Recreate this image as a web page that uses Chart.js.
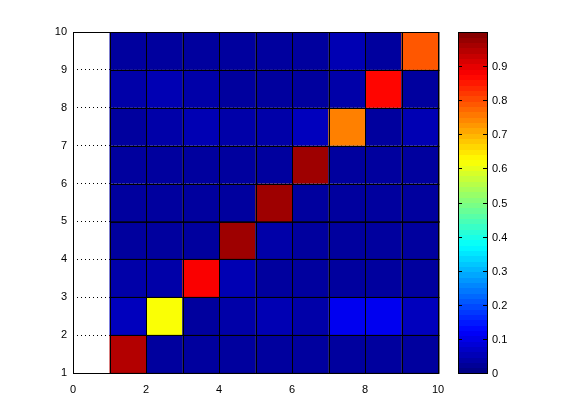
<!DOCTYPE html>
<html>
<head>
<script src="https://cdn.jsdelivr.net/npm/chart.js@4/dist/chart.umd.min.js"></script>
<style>body{margin:0;background:#fff}#wrap{width:561px;height:420px}</style>
</head>
<body>
<div id="wrap"><canvas id="canvas"></canvas></div>
<script>
// cell values, rows from y=1 (bottom) to y=9, columns x=1..9
const row1 = [0.95, 0.03, 0.03, 0.03, 0.03, 0.03, 0.03, 0.03, 0.03];
const row2 = [0.06, 0.62, 0.03, 0.04, 0.05, 0.04, 0.11, 0.11, 0.06];
const row3 = [0.04, 0.04, 0.88, 0.05, 0.03, 0.03, 0.03, 0.03, 0.03];
const row4 = [0.03, 0.03, 0.03, 0.97, 0.04, 0.03, 0.03, 0.03, 0.03];
const row5 = [0.03, 0.03, 0.03, 0.03, 0.97, 0.03, 0.03, 0.03, 0.03];
const row6 = [0.03, 0.03, 0.03, 0.03, 0.03, 0.97, 0.03, 0.03, 0.03];
const row7 = [0.03, 0.04, 0.05, 0.04, 0.04, 0.06, 0.75, 0.03, 0.05];
const row8 = [0.04, 0.05, 0.04, 0.03, 0.03, 0.03, 0.04, 0.87, 0.03];
const row9 = [0.03, 0.03, 0.03, 0.03, 0.03, 0.03, 0.05, 0.03, 0.79];
const rows = [row1, row2, row3, row4, row5, row6, row7, row8, row9];
const xTicks = [0, 2, 4, 6, 8, 10];
const yTicks = [1, 2, 3, 4, 5, 6, 7, 8, 9, 10];
const cbTicks = [0, 0.1, 0.2, 0.3, 0.4, 0.5, 0.6, 0.7, 0.8, 0.9];

// jet colormap
function jet(v) {
    const c = t => Math.max(0, Math.min(1, t));
    const r = c(1.5 - Math.abs(4 * v - 3));
    const g = c(1.5 - Math.abs(4 * v - 2));
    const b = c(1.5 - Math.abs(4 * v - 1));
    return `rgb(${Math.round(r * 255)},${Math.round(g * 255)},${Math.round(b * 255)})`;
}

const cells = {
    id: "cells",
    beforeDatasetsDraw(chart) {
        const ctx = chart.ctx, xs = chart.scales.x, ys = chart.scales.y;
        ctx.save();
        ctx.strokeStyle = "#000";
        ctx.lineWidth = 1;
        for (let j = 0; j < rows.length; j++) {
            for (let i = 0; i < rows[j].length; i++) {
                const x0 = xs.getPixelForValue(i + 1), x1 = xs.getPixelForValue(i + 2);
                const y0 = ys.getPixelForValue(j + 2), y1 = ys.getPixelForValue(j + 1);
                ctx.fillStyle = jet(rows[j][i]);
                ctx.fillRect(x0, y0, x1 - x0, y1 - y0);
                ctx.strokeRect(Math.round(x0) + 0.5, Math.round(y0) + 0.5, x1 - x0, y1 - y0);
            }
        }
        ctx.restore();
    },
    afterDraw(chart) {
        const ctx = chart.ctx, a = chart.chartArea, xs = chart.scales.x, ys = chart.scales.y;
        ctx.save();
        ctx.strokeStyle = "#000";
        ctx.lineWidth = 1;
        ctx.strokeRect(Math.round(a.left) + 0.5, Math.round(a.top) + 0.5, a.right - a.left, a.bottom - a.top);
        // inward ticks
        xTicks.forEach(t => {
            const p = Math.round(xs.getPixelForValue(t)) + 0.5;
            ctx.beginPath();
            ctx.moveTo(p, a.bottom); ctx.lineTo(p, a.bottom - 4);
            ctx.moveTo(p, a.top); ctx.lineTo(p, a.top + 4);
            ctx.stroke();
        });
        // colorbar
        const cx0 = 458, cx1 = 487, top = a.top, bot = a.bottom;
        const n = 64;
        for (let k = 0; k < n; k++) {
            ctx.fillStyle = jet((k + 0.5) / n);
            const yA = bot - (k + 1) / n * (bot - top), yB = bot - k / n * (bot - top);
            ctx.fillRect(cx0, Math.floor(yA), cx1 - cx0, Math.ceil(yB) - Math.floor(yA));
        }
        ctx.strokeRect(cx0 + 0.5, Math.round(top) + 0.5, cx1 - cx0, bot - top);
        ctx.fillStyle = "#000";
        ctx.font = "11px 'Liberation Sans'";
        ctx.textBaseline = "middle";
        cbTicks.forEach(t => {
            const p = Math.round(bot - t * (bot - top)) + 0.5;
            ctx.beginPath();
            ctx.moveTo(cx0, p); ctx.lineTo(cx0 + 4, p);
            ctx.moveTo(cx1, p); ctx.lineTo(cx1 - 4, p);
            ctx.stroke();
            ctx.fillText(String(t), cx1 + 5, p);
        });
        ctx.restore();
    }
};

const config = {
    type: "scatter",
    data: { datasets: [{ data: [] }] },
    options: {
        responsive: true,
        maintainAspectRatio: false,
        animation: false,
        layout: { padding: { top: 32, right: 123, left: 0, bottom: 0 } },
        plugins: { legend: { display: false }, tooltip: { enabled: false } },
        scales: {
            x: {
                type: "linear", min: 0, max: 10,
                afterFit: s => { s.height = 47; },
                afterBuildTicks: s => { s.ticks = xTicks.map(v => ({ value: v })); },
                grid: { display: false },
                border: { display: false },
                ticks: { color: "#000", font: { family: "Liberation Sans", size: 11 }, padding: 2, maxRotation: 0 }
            },
            y: {
                type: "linear", min: 1, max: 10,
                afterFit: s => { s.width = 73; },
                afterBuildTicks: s => { s.ticks = yTicks.map(v => ({ value: v })); },
                grid: { color: "#000", lineWidth: 1, drawTicks: false },
                border: { display: false, dash: [1, 3] },
                ticks: { color: "#000", font: { family: "Liberation Sans", size: 11 }, padding: 6 }
            }
        }
    },
    plugins: [cells]
};
new Chart(document.getElementById("canvas").getContext("2d"), config);
</script>
</body>
</html>
